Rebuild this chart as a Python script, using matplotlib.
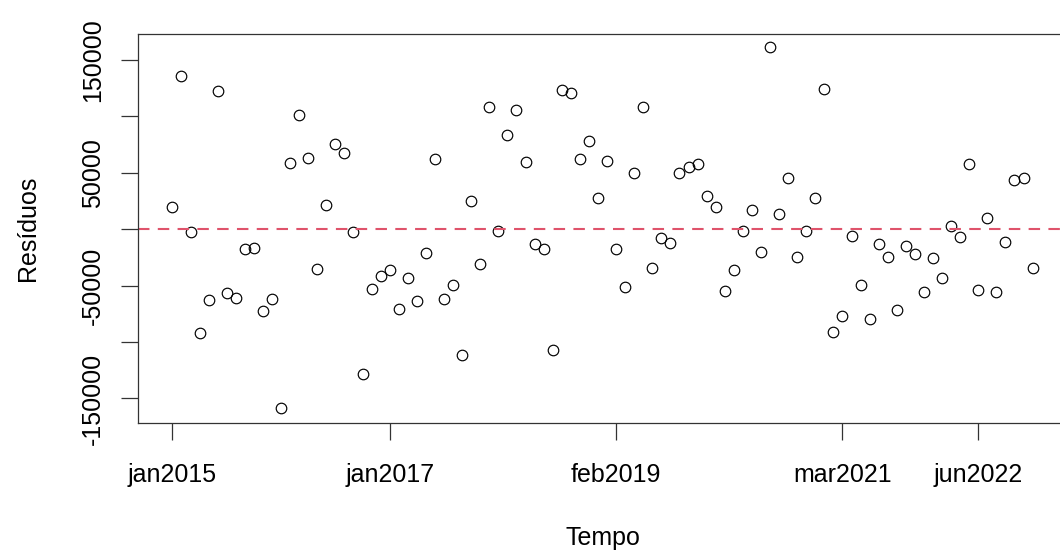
import matplotlib
matplotlib.use('Agg')
import matplotlib.pyplot as plt

plt.rcParams['font.family'] = ['Liberation Sans', 'DejaVu Sans']

# residuos mensais jan2015 .. dez2022
residuos = [
    19300, 136100, -2600, -92200, -62700, 122800, -56200, -60600, -17900, -16700,
    -72500, -61500, -158800, 58800, 101000, 62900, -35300, 21300, 75900, 67300,
    -2600, -128200, -52700, -41800, -36500, -70400, -42900, -63600, -21400, 61800,
    -61500, -49500, -111700, 24900, -30900, 108700, -1300, 83600, 105800, 59700,
    -13500, -17900, -107300, 123700, 120800, 61800, 78300, 27900, 60600, -17900,
    -50900, 49600, 108700, -34100, -7900, -12600, 49600, 55300, 57600, 29000,
    19300, -55000, -36500, -1700, 17300, -20300, 161200, 13700, 45600, -24300,
    -1300, 27900, 124300, -91100, -76900, -5800, -49500, -79200, -12800, -24300,
    -71200, -14600, -22300, -55900, -25600, -42900, 2700, -7000, 57600, -53900,
    10200, -55900, -11400, 43500, 45200, -34400,
]
tempo = list(range(len(residuos)))

xtick_pos = [0, 24, 49, 74, 89]
xtick_lab = ['jan2015', 'jan2017', 'feb2019', 'mar2021', 'jun2022']
ytick_pos = [-150000, -100000, -50000, 0, 50000, 100000, 150000]
ytick_lab = ['-150000', '', '-50000', '', '50000', '', '150000']

fig = plt.figure(figsize=(10.6, 5.56), dpi=100)
ax = fig.add_axes([138 / 1060, 1 - 423.3 / 556, 929 / 1060, 389.3 / 556])

ax.plot(tempo, residuos, 'o', mfc='none', mec='black', ms=7.6, mew=0.85)
ax.axhline(0, color='#DF536B', lw=1.5, dashes=(5.5, 4))

ax.set_xlim(-3.8, 98.8)
ax.set_ylim(-172000, 173000)

ax.set_xticks(xtick_pos)
ax.set_xticklabels(xtick_lab)
ax.set_yticks(ytick_pos)
ax.set_yticklabels(ytick_lab, rotation=90, va='center')

ax.tick_params(axis='both', direction='out', length=12, width=0.9, color='#333333',
               labelsize=18)
ax.tick_params(axis='x', pad=16.5)
ax.tick_params(axis='y', pad=12)

for s in ax.spines.values():
    s.set_color('#333333')
    s.set_linewidth(0.9)

ax.set_xlabel('Tempo', fontsize=18)
ax.set_ylabel('Resíduos', fontsize=18)
ax.xaxis.set_label_coords(0.5, -0.265)
ax.yaxis.set_label_coords(-0.1055, 0.5)

fig.savefig('out.png', dpi=100)
